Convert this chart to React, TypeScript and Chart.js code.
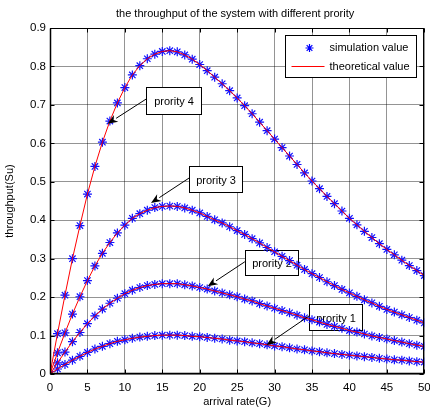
import React, { useEffect, useRef } from 'react';
import { Chart, registerables } from 'chart.js';
Chart.register(...registerables);

const arrivalRate = [0, 1, 2, 3, 4, 5, 6, 7, 8, 9, 10, 11, 12, 13, 14, 15, 16, 17, 18, 19, 20, 21, 22, 23, 24, 25, 26, 27, 28, 29, 30, 31, 32, 33, 34, 35, 36, 37, 38, 39, 40, 41, 42, 43, 44, 45, 46, 47, 48, 49, 50];

const prority4 = [0, 0.105, 0.205, 0.300, 0.386, 0.468, 0.540, 0.603, 0.658, 0.705, 0.745, 0.778, 0.802, 0.820, 0.832, 0.839, 0.841, 0.838, 0.830, 0.819, 0.805, 0.789, 0.772, 0.755, 0.737, 0.718, 0.698, 0.677, 0.655, 0.633, 0.611, 0.589, 0.567, 0.545, 0.523, 0.502, 0.482, 0.462, 0.443, 0.424, 0.405, 0.388, 0.371, 0.355, 0.339, 0.324, 0.310, 0.296, 0.282, 0.269, 0.256];
const prority3 = [0, 0.055, 0.107, 0.156, 0.201, 0.243, 0.281, 0.314, 0.342, 0.367, 0.387, 0.405, 0.417, 0.426, 0.433, 0.436, 0.437, 0.436, 0.432, 0.426, 0.419, 0.410, 0.401, 0.393, 0.383, 0.373, 0.363, 0.352, 0.341, 0.329, 0.318, 0.306, 0.295, 0.283, 0.272, 0.261, 0.251, 0.240, 0.230, 0.220, 0.211, 0.202, 0.193, 0.185, 0.176, 0.168, 0.161, 0.154, 0.147, 0.140, 0.133];
const prority2 = [0, 0.029, 0.057, 0.084, 0.108, 0.131, 0.151, 0.169, 0.184, 0.197, 0.209, 0.218, 0.225, 0.230, 0.233, 0.235, 0.235, 0.235, 0.232, 0.229, 0.225, 0.221, 0.216, 0.211, 0.206, 0.201, 0.195, 0.190, 0.183, 0.177, 0.171, 0.165, 0.159, 0.153, 0.146, 0.141, 0.135, 0.129, 0.124, 0.119, 0.113, 0.109, 0.104, 0.099, 0.095, 0.091, 0.087, 0.083, 0.079, 0.075, 0.072];
const prority1 = [0, 0.013, 0.025, 0.036, 0.046, 0.056, 0.065, 0.072, 0.079, 0.085, 0.089, 0.093, 0.096, 0.098, 0.100, 0.101, 0.101, 0.101, 0.100, 0.098, 0.097, 0.095, 0.093, 0.091, 0.088, 0.086, 0.084, 0.081, 0.079, 0.076, 0.073, 0.071, 0.068, 0.065, 0.063, 0.060, 0.058, 0.055, 0.053, 0.051, 0.049, 0.047, 0.045, 0.043, 0.041, 0.039, 0.037, 0.036, 0.034, 0.032, 0.031];

const xTickValues = [0, 5, 10, 15, 20, 25, 30, 35, 40, 45, 50];
const yTickValues = [0, 0.1, 0.2, 0.3, 0.4, 0.5, 0.6, 0.7, 0.8, 0.9];

const titleText = 'the throughput of the system with different prority';
const xLabel = 'arrival rate(G)';
const yLabel = 'throughput(Su)';
const legendLabels = ['simulation value', 'theoretical value'];

// annotation: text, box [x1, y1, x2, y2] in data units, arrow tail & tip in data units
const annotations = [
  { text: 'prority 4', box: [12.83, 0.7466, 20.16, 0.677], tail: [12.83, 0.715], tip: [7.71, 0.651] },
  { text: 'prority 3', box: [18.6, 0.540, 25.7, 0.473], tail: [18.6, 0.510], tip: [13.49, 0.4445] },
  { text: 'prority 2', box: [26.03, 0.323, 33.13, 0.258], tail: [26.03, 0.292], tip: [21.07, 0.228] },
  { text: 'prority 1', box: [34.6, 0.1815, 41.73, 0.1146], tail: [34.6, 0.151], tip: [28.93, 0.0755] },
];

const FONT = "'Liberation Sans', Arial, sans-serif";
const series = [prority1, prority2, prority3, prority4];

function drawStar(ctx: CanvasRenderingContext2D, x: number, y: number, r: number) {
  ctx.beginPath();
  for (let k = 0; k < 4; k++) {
    const a = (k * Math.PI) / 4;
    ctx.moveTo(x - r * Math.cos(a), y - r * Math.sin(a));
    ctx.lineTo(x + r * Math.cos(a), y + r * Math.sin(a));
  }
  ctx.stroke();
}

const decorPlugin = {
  id: 'matlabDecor',
  beforeDatasetsDraw(chart: any) {
    const ctx = chart.ctx as CanvasRenderingContext2D;
    const xs = chart.scales.x;
    const ys = chart.scales.y;
    ctx.save();
    for (const a of annotations) {
      const x1 = Math.round(xs.getPixelForValue(a.box[0])) + 0.5;
      const y1 = Math.round(ys.getPixelForValue(a.box[1])) + 0.5;
      const x2 = Math.round(xs.getPixelForValue(a.box[2])) + 0.5;
      const y2 = Math.round(ys.getPixelForValue(a.box[3])) + 0.5;
      ctx.fillStyle = '#fff';
      ctx.fillRect(x1, y1, x2 - x1, y2 - y1);
      ctx.strokeStyle = '#000';
      ctx.lineWidth = 1;
      ctx.strokeRect(x1, y1, x2 - x1, y2 - y1);
      ctx.fillStyle = '#000';
      ctx.font = `11px ${FONT}`;
      ctx.textAlign = 'center';
      ctx.textBaseline = 'middle';
      ctx.fillText(a.text, (x1 + x2) / 2, (y1 + y2) / 2 + 1);
    }
    ctx.restore();
  },
  afterDatasetsDraw(chart: any) {
    const ctx = chart.ctx as CanvasRenderingContext2D;
    const xs = chart.scales.x;
    const ys = chart.scales.y;
    ctx.save();
    for (const a of annotations) {
      const tx = xs.getPixelForValue(a.tail[0]);
      const ty = ys.getPixelForValue(a.tail[1]);
      const px = xs.getPixelForValue(a.tip[0]);
      const py = ys.getPixelForValue(a.tip[1]);
      const ang = Math.atan2(py - ty, px - tx);
      const L = 10, W = 4;
      const bx = px - L * Math.cos(ang), by = py - L * Math.sin(ang);
      ctx.strokeStyle = '#000';
      ctx.lineWidth = 1;
      ctx.beginPath();
      ctx.moveTo(tx, ty);
      ctx.lineTo(bx, by);
      ctx.stroke();
      const nx = -Math.sin(ang), ny = Math.cos(ang);
      const nbx = px - (L * 0.7) * Math.cos(ang), nby = py - (L * 0.7) * Math.sin(ang);
      ctx.fillStyle = '#000';
      ctx.beginPath();
      ctx.moveTo(px, py);
      ctx.lineTo(bx + nx * W, by + ny * W);
      ctx.lineTo(nbx, nby);
      ctx.lineTo(bx - nx * W, by - ny * W);
      ctx.closePath();
      ctx.fill();
    }
    ctx.restore();
  },
  afterDraw(chart: any) {
    const ctx = chart.ctx as CanvasRenderingContext2D;
    const area = chart.chartArea;
    const xs = chart.scales.x;
    const ys = chart.scales.y;
    ctx.save();
    const L = Math.round(area.left) + 0.5, R = Math.round(area.right) - 0.5;
    const T = Math.round(area.top) + 0.5, B = Math.round(area.bottom) - 0.5;
    ctx.strokeStyle = '#000';
    ctx.lineWidth = 1;
    ctx.strokeRect(L, T, R - L, B - T);
    ctx.lineWidth = 1.5;
    ctx.beginPath();
    ctx.moveTo(L, T); ctx.lineTo(L, B); ctx.lineTo(R, B);
    ctx.stroke();
    ctx.lineWidth = 1;
    ctx.beginPath();
    for (const v of xTickValues) {
      const x = Math.round(xs.getPixelForValue(v)) + 0.5;
      ctx.moveTo(x, B); ctx.lineTo(x, B - 4);
      ctx.moveTo(x, T); ctx.lineTo(x, T + 4);
    }
    for (const v of yTickValues) {
      const y = Math.round(ys.getPixelForValue(v)) + 0.5;
      ctx.moveTo(L, y); ctx.lineTo(L + 4, y);
      ctx.moveTo(R, y); ctx.lineTo(R - 4, y);
    }
    ctx.stroke();

    // legend
    const lx2 = Math.round(area.right) - 7.5;
    const lx1 = lx2 - 131;
    const ly1 = Math.round(area.top) + 7.5;
    const ly2 = ly1 + 42;
    ctx.fillStyle = '#fff';
    ctx.fillRect(lx1, ly1, lx2 - lx1, ly2 - ly1);
    ctx.strokeStyle = '#000';
    ctx.lineWidth = 1;
    ctx.strokeRect(lx1, ly1, lx2 - lx1, ly2 - ly1);
    ctx.strokeStyle = '#0000ff';
    ctx.lineWidth = 1.2;
    drawStar(ctx, lx1 + 24, ly1 + 12.5, 4);
    ctx.strokeStyle = '#ff0000';
    ctx.lineWidth = 1;
    ctx.beginPath();
    ctx.moveTo(lx1 + 6, ly1 + 31); ctx.lineTo(lx1 + 39, ly1 + 31);
    ctx.stroke();
    ctx.fillStyle = '#000';
    ctx.font = `11px ${FONT}`;
    ctx.textAlign = 'left';
    ctx.textBaseline = 'middle';
    ctx.fillText(legendLabels[0], lx1 + 44, ly1 + 12.5);
    ctx.fillText(legendLabels[1], lx1 + 44, ly1 + 31);

    ctx.textAlign = 'center';
    ctx.fillText(titleText, (area.left + area.right) / 2 - 2, area.top - 14);
    ctx.fillText(xLabel, (area.left + area.right) / 2, area.bottom + 28);
    ctx.translate(10, (area.top + area.bottom) / 2);
    ctx.rotate(-Math.PI / 2);
    ctx.fillText(yLabel, 0, 0);
    ctx.restore();
  },
};

export default function App() {
  const ref = useRef<HTMLCanvasElement | null>(null);
  useEffect(() => {
    if (!ref.current) return;
    const datasets: any[] = [];
    series.forEach((s) => {
      const pts = arrivalRate.map((g, i) => ({ x: g, y: s[i] }));
      datasets.push({
        type: 'line',
        data: pts,
        borderColor: '#ff0000',
        borderWidth: 1,
        pointRadius: 0,
        tension: 0,
        fill: false,
        order: 0,
      });
      datasets.push({
        type: 'line',
        data: pts,
        showLine: false,
        pointStyle: 'star',
        pointRadius: 4.5,
        pointBorderWidth: 1.2,
        pointBorderColor: '#1010ff',
        pointBackgroundColor: '#1010ff',
        order: 1,
      });
    });
    const font = { family: FONT, size: 11.5 };
    const chart = new Chart(ref.current, {
      type: 'line',
      data: { datasets },
      plugins: [decorPlugin],
      options: {
        animation: false,
        responsive: false,
        devicePixelRatio: 1,
        layout: { padding: { left: 0, top: 28, right: 4, bottom: 0 } },
        plugins: { legend: { display: false }, title: { display: false }, tooltip: { enabled: false } },
        scales: {
          x: {
            type: 'linear',
            min: 0,
            max: 50,
            afterBuildTicks: (s: any) => { s.ticks = xTickValues.map((v) => ({ value: v })); },
            ticks: { font, color: '#000', padding: 7, maxRotation: 0, autoSkip: false, callback: (v: any) => String(v) },
            grid: { color: 'rgba(0,0,0,0.42)', lineWidth: 1, drawTicks: false },
            border: { display: false },
            afterFit: (s: any) => { s.height = 35; s.paddingLeft = 0; s.paddingRight = 0; },
          },
          y: {
            type: 'linear',
            min: 0,
            max: 0.9,
            afterBuildTicks: (s: any) => { s.ticks = yTickValues.map((v) => ({ value: v })); },
            ticks: { font, color: '#000', padding: 4, autoSkip: false, callback: (v: any) => (v === 0 ? '0' : Number(v).toFixed(1)) },
            grid: { color: 'rgba(0,0,0,0.42)', lineWidth: 1, drawTicks: false },
            border: { display: false },
            afterFit: (s: any) => { s.width = 50; s.paddingTop = 0; s.paddingBottom = 0; },
          },
        },
      } as any,
    });
    return () => chart.destroy();
  }, []);
  return (
    <div style={{ position: 'fixed', left: 0, top: 0, width: 430, height: 409, background: '#fff' }}>
      <canvas ref={ref} width={430} height={409} style={{ width: 430, height: 409, display: 'block' }} />
    </div>
  );
}
